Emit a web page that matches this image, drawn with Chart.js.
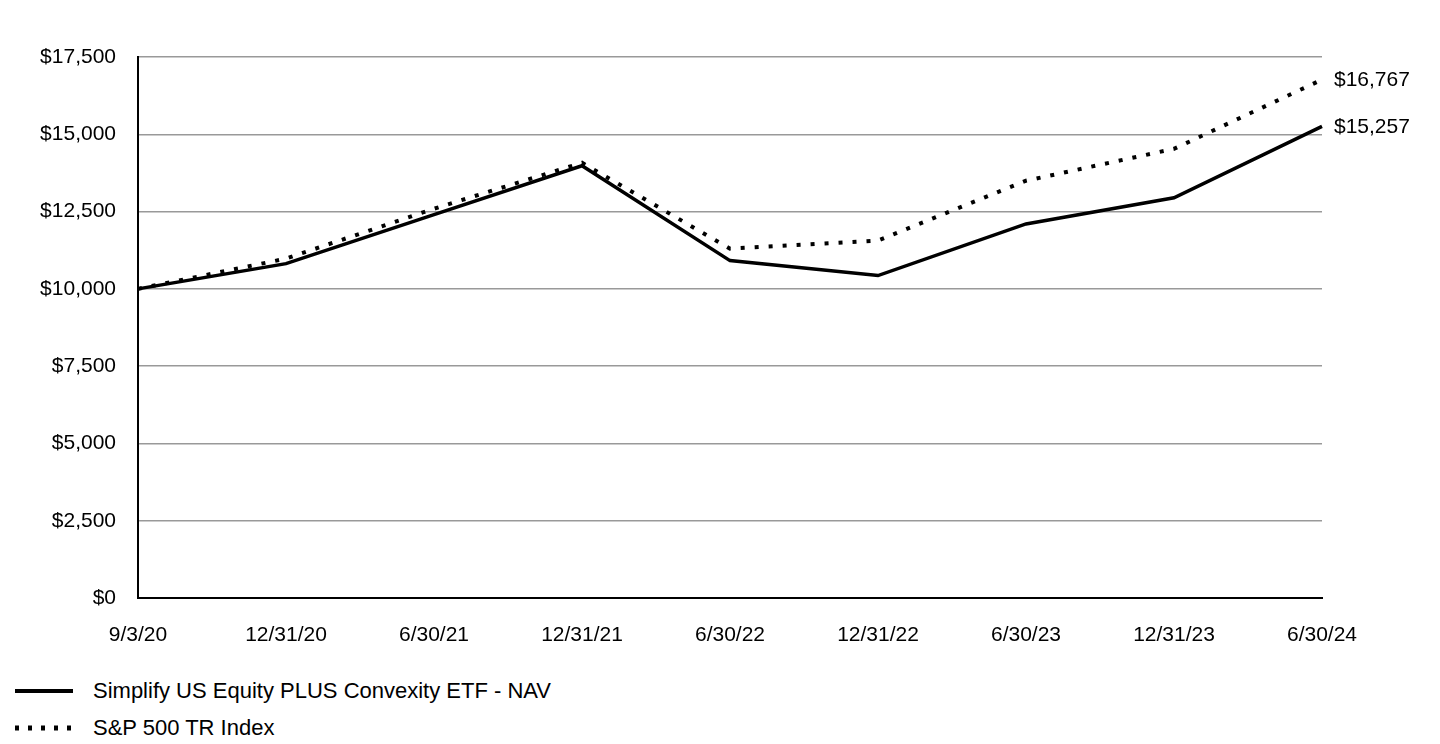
<!DOCTYPE html>
<html>
<head>
<meta charset="utf-8">
<script src="https://cdn.jsdelivr.net/npm/chart.js@4"></script>
<style>
  body { margin: 0; background: #fff; font-family: "Liberation Sans", Arial, sans-serif; }
  .wrap { position: relative; width: 1440px; height: 660px; }
  .legend { position: absolute; left: 15px; top: 672px; font-size: 22px; color: #000; }
  .legend div { display: flex; align-items: center; height: 37px; }
  .legend svg { margin-right: 20px; }
</style>
</head>
<body>
<div class="wrap"><canvas class="my-chart"></canvas></div>
<div class="legend">
  <div><svg width="58" height="6"><line x1="0" y1="3" x2="58" y2="3" stroke="#000" stroke-width="4"/></svg>Simplify US Equity PLUS Convexity ETF - NAV</div>
  <div><svg width="58" height="6"><line x1="0" y1="3" x2="58" y2="3" stroke="#000" stroke-width="5" stroke-dasharray="4 9"/></svg>S&amp;P 500 TR Index</div>
</div>
<script>
const labels = ["9/3/20", "12/31/20", "6/30/21", "12/31/21", "6/30/22", "12/31/22", "6/30/23", "12/31/23", "6/30/24"];
const navValues = [10000, 10817, 12399, 13981, 10914, 10430, 12100, 12948, 15257];
const spValues = [10000, 10978, 12593, 14078, 11301, 11560, 13497, 14530, 16767];
const seriesNames = ["Simplify US Equity PLUS Convexity ETF - NAV", "S&P 500 TR Index"];

const fmt = (v) => "$" + v.toLocaleString("en-US");
const font = { family: "'Liberation Sans', Arial, sans-serif", size: 21 };

// value labels at the end of each line
const endLabels = {
  id: "endLabels",
  afterDatasetsDraw(chart) {
    const ctx = chart.ctx;
    ctx.save();
    ctx.font = "21px 'Liberation Sans', Arial, sans-serif";
    ctx.fillStyle = "#000";
    ctx.textAlign = "left";
    ctx.textBaseline = "middle";
    chart.data.datasets.forEach((ds, i) => {
      const pts = chart.getDatasetMeta(i).data;
      const last = pts[pts.length - 1];
      ctx.fillText(fmt(ds.data[ds.data.length - 1]), last.x + 12, last.y + 1);
    });
    ctx.restore();
  },
};

new Chart(document.querySelector(".my-chart"), {
  type: "line",
  data: {
    labels: labels,
    datasets: [
      {
        label: seriesNames[0],
        data: navValues,
        borderColor: "#000",
        borderWidth: 3.5,
        pointRadius: 0,
        tension: 0,
      },
      {
        label: seriesNames[1],
        data: spValues,
        borderColor: "#000",
        borderWidth: 4,
        borderDash: [4, 10],
        pointRadius: 0,
        tension: 0,
      },
    ],
  },
  options: {
    responsive: true,
    maintainAspectRatio: false,
    animation: false,
    layout: { padding: { top: 57, right: 118, left: 0, bottom: 0 } },
    plugins: {
      legend: { display: false },
      tooltip: { enabled: false },
    },
    scales: {
      x: {
        offset: false,
        grid: { display: false },
        border: { color: "#000", width: 2 },
        ticks: { color: "#000", font: font, maxRotation: 0, autoSkip: false, padding: 17 },
        afterFit: (s) => { s.height = 62; },
      },
      y: {
        min: 0,
        max: 17500,
        grid: { color: "#999", lineWidth: 1.5, drawTicks: false },
        border: { color: "#000", width: 2 },
        ticks: { stepSize: 2500, color: "#000", font: font, padding: 22, callback: (v) => fmt(v) },
        afterFit: (s) => { s.width = 138; },
      },
    },
  },
  plugins: [endLabels],
});
</script>
</body>
</html>
